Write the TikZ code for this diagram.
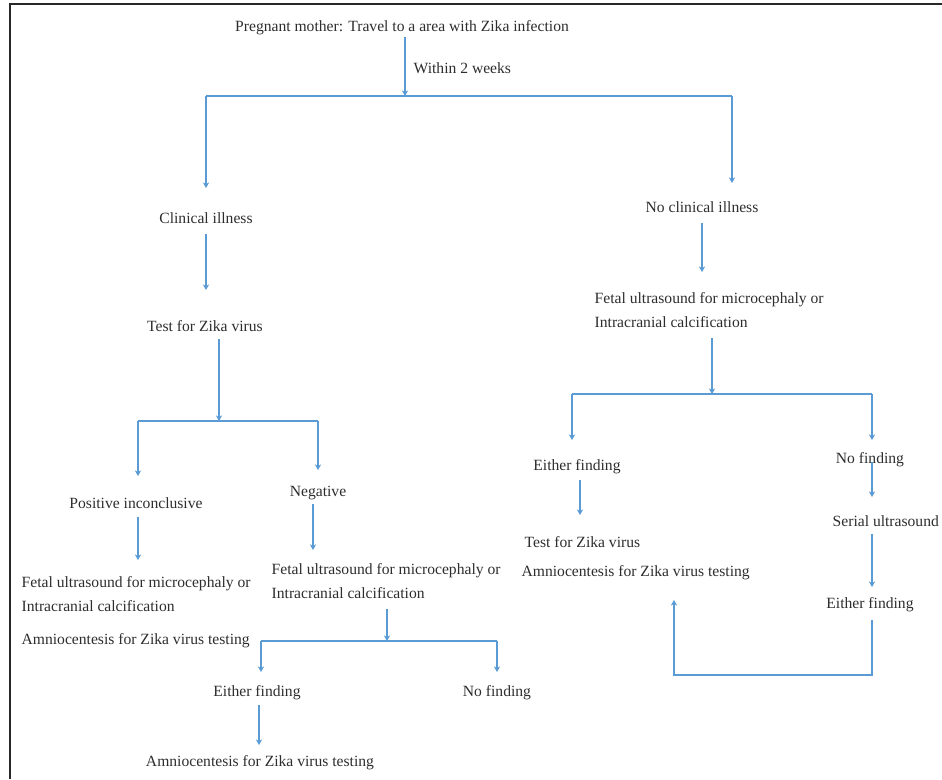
\documentclass[tikz,border=0pt]{standalone}
\usepackage{fontspec}
\setmainfont{Liberation Serif}
\usetikzlibrary{arrows.meta}
\definecolor{flowblue}{RGB}{91,155,213}
\definecolor{txt}{RGB}{45,45,45}
\definecolor{frame}{RGB}{40,40,40}
\begin{document}
\begin{tikzpicture}[x=0.025cm,y=-0.025cm,
  lbl/.style={inner sep=1pt,text=txt,font=\fontsize{11.1}{17.5}\selectfont},
  lblw/.style={lbl,anchor=west,align=left},
  ln/.style={draw=flowblue,line width=0.8pt},
  arr/.style={ln,-{Stealth[length=4pt,width=4.5pt]}}]
\useasboundingbox (0,0) rectangle (942,779);
% frame
\draw[frame,line width=1.2pt] (10,779) -- (10,4) -- (942,4);

% nodes
\node[lbl] (pm) at (402,28) {Pregnant mother: Travel to a area with Zika infection};
\node[lblw] (w2) at (412,68) {Within 2 weeks};
\node[lbl] (ci) at (206,218) {Clinical illness};
\node[lbl] (nci) at (702,207) {No clinical illness};
\node[lbl] (tz1) at (205,326) {Test for Zika virus};
\node[lblw] (fu1) at (593,310) {Fetal ultrasound for microcephaly or\\Intracranial calcification};
\node[lbl] (pi) at (136,503) {Positive inconclusive};
\node[lbl] (neg) at (318,493) {Negative};
\node[lblw] (fu2) at (20,594) {Fetal ultrasound for microcephaly or\\Intracranial calcification};
\node[lblw] (am1) at (20,641) {Amniocentesis for Zika virus testing};
\node[lblw] (fu3) at (270,581) {Fetal ultrasound for microcephaly or\\Intracranial calcification};
\node[lbl] (ef1) at (257,693) {Either finding};
\node[lbl] (nf1) at (497,693) {No finding};
\node[lbl] (am2) at (260,763) {Amniocentesis for Zika virus testing};
\node[lbl] (ef2) at (577,467) {Either finding};
\node[lbl] (nf2) at (870,460) {No finding};
\node[lblw] (tz2) at (523,542) {Test for Zika virus};
\node[lblw] (am3) at (520,573) {Amniocentesis for Zika virus testing};
\node[lblw] (su) at (831,521) {Serial ultrasound};
\node[lbl] (ef3) at (870,605) {Either finding};

% junction coordinates
\coordinate (j0) at (405,96);
\coordinate (j0l) at (206,96);
\coordinate (j0r) at (732,96);
\coordinate (t0l) at (206,188);
\coordinate (t0r) at (732,183);
\coordinate (t1) at (206,290);
\coordinate (t2) at (702,272);
\coordinate (j1) at (219,421);
\coordinate (j1l) at (138,421);
\coordinate (j1r) at (318,421);
\coordinate (t1l) at (138,476);
\coordinate (t1r) at (318,470);
\coordinate (t3) at (138,560);
\coordinate (t4) at (313,550);
\coordinate (j2) at (387,641);
\coordinate (j2l) at (261,641);
\coordinate (j2r) at (497,641);
\coordinate (t2l) at (261,672);
\coordinate (t2r) at (497,672);
\coordinate (t5) at (259,745);
\coordinate (j3) at (712,394);
\coordinate (j3l) at (572,394);
\coordinate (j3r) at (872,394);
\coordinate (t3l) at (572,440);
\coordinate (t3r) at (872,440);
\coordinate (t6) at (580,515);
\coordinate (t7) at (872,497);
\coordinate (t8) at (872,587);
\coordinate (lp1) at (872,675);
\coordinate (lp2) at (674,675);
\coordinate (t9) at (674,600);

% connectors
\draw[arr] (pm.south -| j0) -- (j0);
\draw[ln] (j0l) -- (j0r);
\draw[arr] (j0l) -- (t0l);
\draw[arr] (j0r) -- (t0r);
\draw[arr] ([yshift=-6pt]ci.south) -- (t1);
\draw[arr] ([yshift=-6pt]nci.south) -- (t2);
\draw[arr] ([yshift=-4pt]tz1.south -| j1) -- (j1);
\draw[ln] (j1l) -- (j1r);
\draw[arr] (j1l) -- (t1l);
\draw[arr] (j1r) -- (t1r);
\draw[arr] ([yshift=-5pt]pi.south -| t3) -- (t3);
\draw[arr] ([yshift=-2pt]neg.south -| t4) -- (t4);
\draw[arr] ([yshift=-6pt]fu3.south -| j2) -- (j2);
\draw[ln] (j2l) -- (j2r);
\draw[arr] (j2l) -- (t2l);
\draw[arr] (j2r) -- (t2r);
\draw[arr] ([yshift=-2pt]ef1.south -| t5) -- (t5);
\draw[arr] ([yshift=-6pt]fu1.south -| j3) -- (j3);
\draw[ln] (j3l) -- (j3r);
\draw[arr] (j3l) -- (t3l);
\draw[arr] (j3r) -- (t3r);
\draw[arr] ([yshift=-3pt]ef2.south -| t6) -- (t6);
\draw[arr] ([yshift=5pt]nf2.south -| t7) -- (t7);
\draw[arr] ([yshift=-4pt]su.south -| t8) -- (t8);
\draw[arr] ([yshift=-4pt]ef3.south -| lp1) -- (lp1) -- (lp2) -- (t9);
\end{tikzpicture}
\end{document}
